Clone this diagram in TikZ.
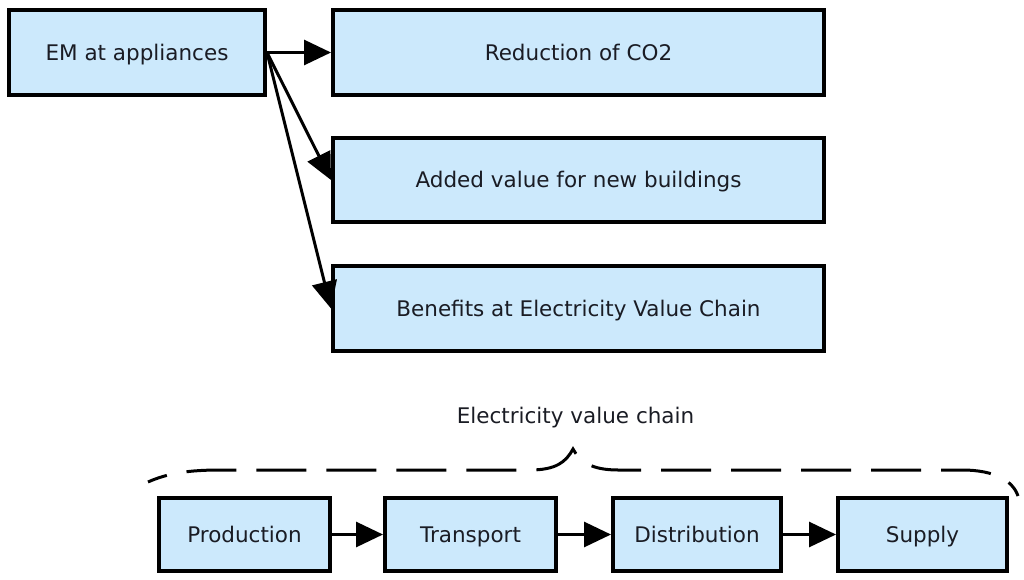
\documentclass[tikz,border=0pt]{standalone}
\usepackage{fontspec}
\setmainfont{DejaVu Sans}
\usetikzlibrary{arrows.meta}
\definecolor{boxfill}{RGB}{204,233,252}
\definecolor{txt}{RGB}{26,28,36}
\begin{document}
\begin{tikzpicture}[x=1pt,y=-1pt,
  box/.style={draw=black, line width=4pt, fill=boxfill, text=txt, inner sep=0pt,
    text height=15.7pt, text depth=0pt,
    font=\fontsize{21.5}{26}\selectfont},
  conn/.style={line width=3pt, -{Triangle[length=27pt,width=25pt]}}]
\useasboundingbox (0,0) rectangle (1024,580);
\node[box, minimum width=256pt, minimum height=85pt] (em) at (137,52.5) {EM at appliances};
\node[box, minimum width=491pt, minimum height=85pt] (red) at (578.5,52.5) {Reduction of CO2};
\node[box, minimum width=491pt, minimum height=84pt] (add) at (578.5,180) {Added value for new buildings};
\node[box, minimum width=491pt, minimum height=85pt] (ben) at (578.5,308.5) {Benefits at Electricity Value Chain};
\node[box, minimum width=171pt, minimum height=73pt] (prod) at (244.5,534.5) {Production};
\node[box, minimum width=171pt, minimum height=73pt] (trans) at (470.5,534.5) {Transport};
\node[box, minimum width=168pt, minimum height=73pt] (dist) at (697,534.5) {Distribution};
\node[box, minimum width=169pt, minimum height=73pt] (sup) at (922.5,534.5) {Supply};
\draw[conn] (em.east) -- (red.west);
\draw[conn] (em.east) -- (add.west);
\draw[conn] (em.east) -- (ben.west);
\draw[conn] (prod) -- (trans);
\draw[conn] (trans) -- (dist);
\draw[conn] (dist) -- (sup);
\node[text=txt, font=\fontsize{21.5}{26}\selectfont, inner sep=0pt, text height=15.7pt, text depth=0pt] (lbl) at (575.5,416) {Electricity value chain};
\draw[line width=3pt, dash pattern=on 50pt off 20pt, dash phase=30pt]
  (148,482) .. controls (168,473) and (190,470) .. (220,470) -- (530,470)
  .. controls (556,470) and (566,462) .. (573,449)
  .. controls (580,462) and (592,470) .. (618,470) -- (962,470)
  .. controls (995,470) and (1013,481) .. (1018,496);
\end{tikzpicture}
\end{document}
